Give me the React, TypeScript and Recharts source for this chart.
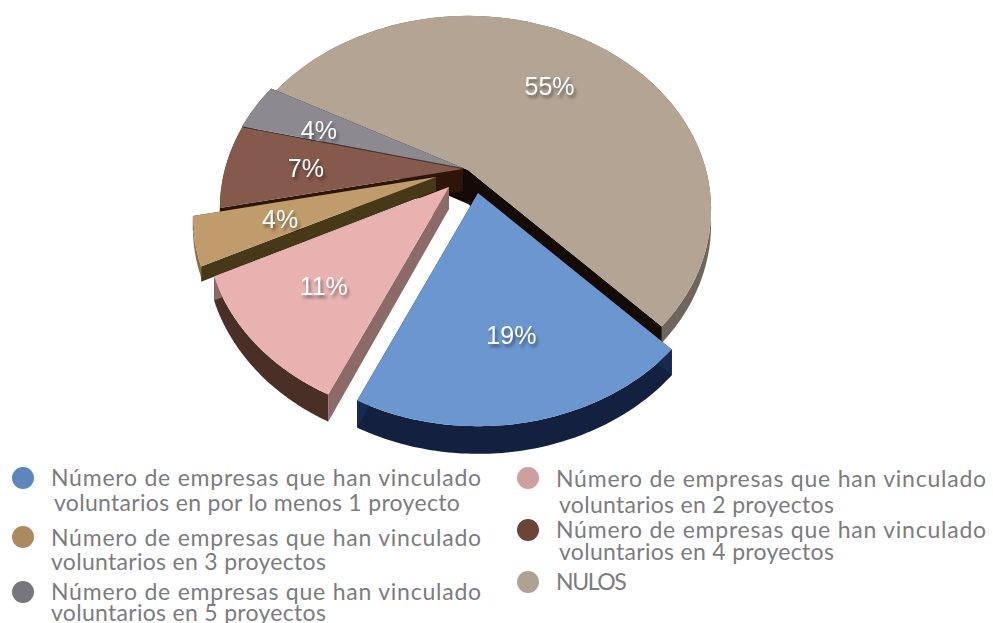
import { Legend, Pie, PieChart } from "recharts"

// drawing order is far to near, so the front slices cover the walls behind them
const sliceNames = ["NULOS", "5 proyectos", "4 proyectos", "3 proyectos", "2 proyectos", "1 proyecto"]
const sliceValues = [55, 4, 7, 4, 11, 19]

const sliceLooks = [
  { top: "#b3a493", rim: "#6e655c", side: "#140b06", dx: 0, dy: 0, depth: 14, sideDepth: 34, lx: -5, ly: 6 },
  { top: "#8c8a90", rim: "#5d5b60", side: "#3a3836", dx: -5, dy: -2, depth: 22, sideDepth: 22, lx: -2, ly: 4 },
  { top: "#85594c", rim: "#4b2a1e", side: "#2e1509", dx: -5, dy: -1, depth: 22, sideDepth: 22, lx: 2, ly: 1 },
  { top: "#c09c6c", rim: "#8a7040", side: "#473818", dx: -32, dy: 7, depth: 10, sideDepth: 14, lx: 2, ly: 0 },
  { top: "#e8b2b1", rim: "#4a2f26", side: "#8c6a69", dx: -19, dy: 17, depth: 22, sideDepth: 22, lx: -2, ly: 0 },
  { top: "#6b96cf", rim: "#14203f", side: "#16294e", dx: 10, dy: 23, depth: 22, sideDepth: 22, lx: 2, ly: 0 },
]

const COMPANY_LINE = "Número de empresas que han vinculado"

const legendItems = [
  { color: "#5f85bd", x: 23, y: 478, lines: [
    { text: COMPANY_LINE, x: 51, y: 477, gap: 0.77 },
    { text: "voluntarios en por lo menos 1 proyecto", x: 54, y: 502, gap: 0.31 },
  ] },
  { color: "#ac8a60", x: 23, y: 537, lines: [
    { text: COMPANY_LINE, x: 51, y: 537, gap: 0.77 },
    { text: "voluntarios en 3 proyectos", x: 51, y: 561, gap: 0.3 },
  ] },
  { color: "#76767c", x: 23, y: 592, lines: [
    { text: COMPANY_LINE, x: 51, y: 591, gap: 0.77 },
    { text: "voluntarios en 5 proyectos", x: 51, y: 612, gap: 0.3 },
  ] },
  { color: "#cf9fa0", x: 528, y: 478, lines: [
    { text: COMPANY_LINE, x: 556, y: 478, gap: 0.77 },
    { text: "voluntarios en 2 proyectos", x: 559, y: 504, gap: 0.3 },
  ] },
  { color: "#6c4437", x: 528, y: 530, lines: [
    { text: COMPANY_LINE, x: 556, y: 529, gap: 0.77 },
    { text: "voluntarios en 4 proyectos", x: 559, y: 551, gap: 0.3 },
  ] },
  { color: "#ada293", x: 528, y: 582, lines: [{ text: "NULOS", x: 556, y: 581, gap: -1.4 }] },
]

const TILT = 0.78
const PERSPECTIVE = 0.204
const LABEL_RADIUS = 0.67

// flat pie position -> picture position, far side of the disc comes out smaller
function project(cx: number, cy: number, r: number, deg: number, frac = 1) {
  const u = Math.cos((deg * Math.PI) / 180) * frac
  const v = Math.sin((deg * Math.PI) / 180) * frac
  const w = 1 + PERSPECTIVE * v
  return { x: cx + (r * u) / w, y: cy - (r * TILT * v) / w, w }
}

const toPath = (pts: { x: number; y: number }[]) =>
  "M" + pts.map((p) => `${p.x.toFixed(1)},${p.y.toFixed(1)}`).join("L") + "Z"

function Slice(props: any) {
  const { cx, cy, outerRadius, startAngle, endAngle, index } = props
  const look = sliceLooks[index]
  const arc = []
  for (let i = 0; i <= 80; i++) {
    arc.push(project(cx, cy, outerRadius, startAngle + ((endAngle - startAngle) * i) / 80))
  }
  const low = (p: any, d: number) => ({ x: p.x, y: p.y + d / p.w })
  const apex = { x: cx, y: cy, w: 1 }
  const a = arc[0]
  const b = arc[arc.length - 1]
  const sd = look.sideDepth
  return (
    <g transform={`translate(${look.dx},${look.dy})`}>
      <path d={toPath([...arc, ...arc.map((p) => low(p, look.depth)).reverse()])} fill={look.rim} />
      <path d={toPath([apex, a, low(a, sd), low(apex, sd)])} fill={look.side} />
      <path d={toPath([apex, b, low(b, sd), low(apex, sd)])} fill={look.side} />
      <path d={toPath([apex, ...arc])} fill={look.top} />
    </g>
  )
}

function SliceLabel(props: any) {
  const { cx, cy, outerRadius, midAngle, index, value } = props
  const look = sliceLooks[index]
  const p = project(cx, cy, outerRadius, midAngle, LABEL_RADIUS)
  return (
    <text
      x={p.x + look.dx + look.lx}
      y={p.y + look.dy + look.ly}
      textAnchor="middle"
      dominantBaseline="central"
      fill="#ffffff"
      fontFamily="Liberation Sans"
      fontSize={25}
      style={{ filter: "drop-shadow(2px 3px 1.5px rgba(0,0,0,0.4))" }}
    >
      {value}%
    </text>
  )
}

function LegendBlock() {
  return (
    <div style={{ position: "absolute", left: 0, top: 0, width: 993, height: 623 }}>
      {legendItems.map((item, i) => (
        <div key={i}>
          <div
            style={{
              position: "absolute",
              left: item.x - 11,
              top: item.y - 11,
              width: 22,
              height: 22,
              borderRadius: "50%",
              background: item.color,
            }}
          />
          {item.lines.map((line, j) => (
            <div
              key={j}
              style={{
                position: "absolute",
                left: line.x,
                top: line.y - 11,
                height: 22,
                lineHeight: "22px",
                whiteSpace: "nowrap",
                fontFamily: "Lato",
                fontSize: 23,
                letterSpacing: line.gap,
                color: "#7c7c7f",
                textAlign: "left",
              }}
            >
              {line.text}
            </div>
          ))}
        </div>
      ))}
    </div>
  )
}

export default function App() {
  const data = sliceNames.map((name, i) => ({ name, value: sliceValues[i] }))
  return (
    <div style={{ position: "absolute", left: 0, top: 0, width: 993, height: 623, background: "#fff" }}>
      <PieChart width={993} height={623} margin={{ top: 0, right: 0, bottom: 0, left: 0 }}>
        <Pie
          data={data}
          dataKey="value"
          nameKey="name"
          cx={468}
          cy={170}
          outerRadius={238}
          startAngle={-46}
          endAngle={314}
          stroke="none"
          shape={Slice}
          label={SliceLabel}
          labelLine={false}
          isAnimationActive={false}
        />
        <Legend content={LegendBlock} wrapperStyle={{ position: "absolute", left: 0, top: 0, width: 993, height: 623 }} />
      </PieChart>
    </div>
  )
}
